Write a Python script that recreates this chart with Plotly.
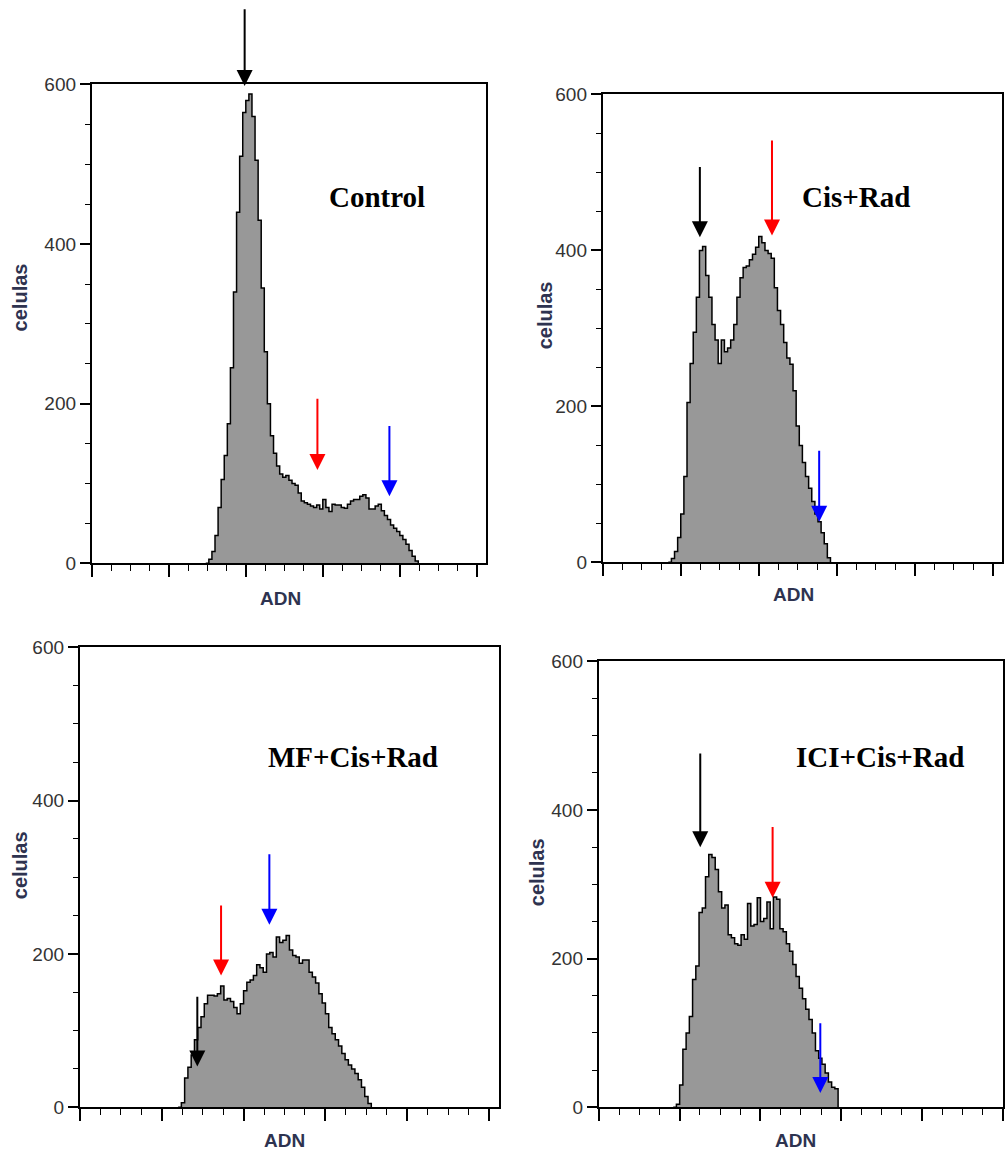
import plotly.graph_objects as go

W, H = 1005, 1151
BIN = 8  # channel width of each histogram bin

# ---------------- data (cell counts per DNA channel bin) ----------------
control_start = 296
control_counts = [0, 5, 15, 35, 70, 105, 135, 175, 245, 340, 440, 510, 565, 580, 588,
                  560, 505, 430, 345, 265, 200, 160, 138, 122, 112, 108, 110, 104, 100,
                  98, 88, 78, 76, 74, 72, 70, 73, 68, 80, 70, 65, 74, 73, 73, 70, 69,
                  74, 78, 80, 80, 84, 86, 82, 68, 68, 72, 74, 66, 60, 55, 48, 44, 40,
                  35, 30, 24, 16, 9, 3, 0]

cisrad_start = 168
cisrad_counts = [0, 5, 14, 32, 62, 110, 205, 255, 295, 340, 400, 405, 368, 340, 305,
                 285, 255, 285, 270, 275, 285, 305, 340, 365, 378, 380, 388, 395, 404,
                 418, 410, 400, 396, 390, 352, 323, 305, 282, 262, 254, 220, 175, 150,
                 128, 110, 95, 78, 62, 52, 38, 24, 6, 0]

mf_start = 240
mf_counts = [0, 6, 38, 52, 68, 88, 104, 118, 135, 146, 146, 145, 148, 158, 140, 142,
             138, 130, 122, 135, 152, 163, 166, 172, 186, 182, 176, 200, 202, 196, 222,
             215, 218, 224, 205, 198, 196, 188, 192, 192, 176, 170, 162, 148, 136, 122,
             104, 96, 88, 80, 70, 62, 55, 50, 44, 36, 26, 14, 5, 0]

ici_start = 184
ici_counts = [0, 4, 30, 78, 100, 122, 172, 190, 262, 268, 310, 340, 336, 320, 290, 268,
              272, 232, 228, 220, 218, 232, 226, 274, 244, 246, 282, 250, 254, 276, 240,
              283, 280, 240, 236, 220, 210, 192, 176, 160, 146, 132, 118, 100, 76, 66,
              58, 46, 34, 27, 25, 0]

titles = ["Control", "Cis+Rad", "MF+Cis+Rad", "ICI+Cis+Rad"]
starts = [control_start, cisrad_start, mf_start, ici_start]
counts = [control_counts, cisrad_counts, mf_counts, ici_counts]

# arrows: (channel, tip count, tail count, colour)
arrows = [
    [(397, 598, 696, "black"), (586, 117, 208, "#ff0000"), (773, 84, 174, "#0000ff")],
    [(249, 417, 509, "black"), (434, 419, 543, "#ff0000"), (555, 52, 145, "#0000ff")],
    [(287, 53, 146, "black"), (345, 172, 265, "#ff0000"), (463, 238, 332, "#0000ff")],
    [(251, 350, 478, "black"), (430, 282, 379, "#ff0000"), (548, 19, 115, "#0000ff")],
]

# ---------------- layout geometry (pixels) ----------------
# (left, right, top, bottom) of each plotting box
boxes = [(92, 487, 84, 563), (604, 1004, 94, 562), (80, 500, 647, 1107), (600, 1005, 661, 1107)]
xmax = [1024, 1024, 1024, 1000]
title_pos = [(378, 197), (858, 197), (354, 757), (882, 757)]
ylab_pos = [(20, 297), (547, 315), (20, 865), (538, 872)]
xlab_pos = [(281, 598), (795, 594), (285, 1140), (797, 1140)]

# empirical correction for the vertical placement observed in the render
Y_SCALE, Y_OFF = 0.982, 9.5


def px(xp):
    return xp / W


def py(yp):
    return 1 - ((yp - Y_OFF) / Y_SCALE) / H


fig = go.Figure()
annotations = []
SANS = "Liberation Sans, Arial, sans-serif"
SERIF = "Liberation Serif, Times New Roman, serif"

for i in range(4):
    n = "" if i == 0 else str(i + 1)
    xs = [starts[i] + k * BIN for k in range(len(counts[i]))]
    fig.add_trace(go.Scatter(
        x=xs, y=counts[i], mode="lines",
        line=dict(shape="hv", color="black", width=1.5),
        fill="tozeroy", fillcolor="#989898",
        xaxis="x" + n, yaxis="y" + n, showlegend=False, hoverinfo="skip"))

    l, r, t, b = boxes[i]
    fig.update_layout(**{
        "xaxis" + n: dict(
            domain=[px(l), px(r)], anchor="y" + n, range=[0, xmax[i]],
            showline=True, linecolor="black", linewidth=2, mirror=True,
            showgrid=False, zeroline=False, showticklabels=False,
            ticks="outside", tick0=0, dtick=200, ticklen=12, tickwidth=1.5, tickcolor="black",
            minor=dict(ticks="outside", dtick=50, ticklen=6, tickwidth=1.2, tickcolor="black"),
        ),
        "yaxis" + n: dict(
            domain=[max(0.0, py(b)), min(1.0, py(t))], anchor="x" + n, range=[0, 600],
            showline=True, linecolor="black", linewidth=2, mirror=True,
            showgrid=False, zeroline=False,
            ticks="outside", tick0=0, dtick=200, ticklen=10, tickwidth=1.5, tickcolor="black",
            tickfont=dict(family=SANS, size=19, color="#333333"),
            minor=dict(ticks="outside", dtick=50, ticklen=5, tickwidth=1.2, tickcolor="black"),
        ),
    })

    for (ch, tip, tail, col) in arrows[i]:
        annotations.append(dict(
            x=ch, y=tip, ax=ch, ay=tail, xref="x" + n, yref="y" + n,
            axref="x" + n, ayref="y" + n, text="", showarrow=True,
            arrowhead=2, arrowsize=1.6, arrowwidth=2, arrowcolor=col, standoff=0))

    tx, ty = title_pos[i]
    annotations.append(dict(x=px(tx), y=py(ty), xref="paper", yref="paper", text=titles[i],
                            showarrow=False, xanchor="center", yanchor="middle",
                            font=dict(family=SERIF, size=29, color="black", weight="bold")))
    lx, ly = ylab_pos[i]
    annotations.append(dict(x=px(lx), y=py(ly), xref="paper", yref="paper", text="celulas",
                            textangle=-90, showarrow=False, xanchor="center", yanchor="middle",
                            font=dict(family=SANS, size=20, color="#2e3350", weight="bold")))
    ax_, ay_ = xlab_pos[i]
    annotations.append(dict(x=px(ax_), y=py(ay_), xref="paper", yref="paper", text="ADN",
                            showarrow=False, xanchor="center", yanchor="middle",
                            font=dict(family=SANS, size=19, color="#2e3350", weight="bold")))

fig.update_layout(
    width=W, height=H, margin=dict(l=0, r=0, t=0, b=0),
    paper_bgcolor="white", plot_bgcolor="white",
    annotations=annotations, showlegend=False,
)

fig.write_html("out.html")
